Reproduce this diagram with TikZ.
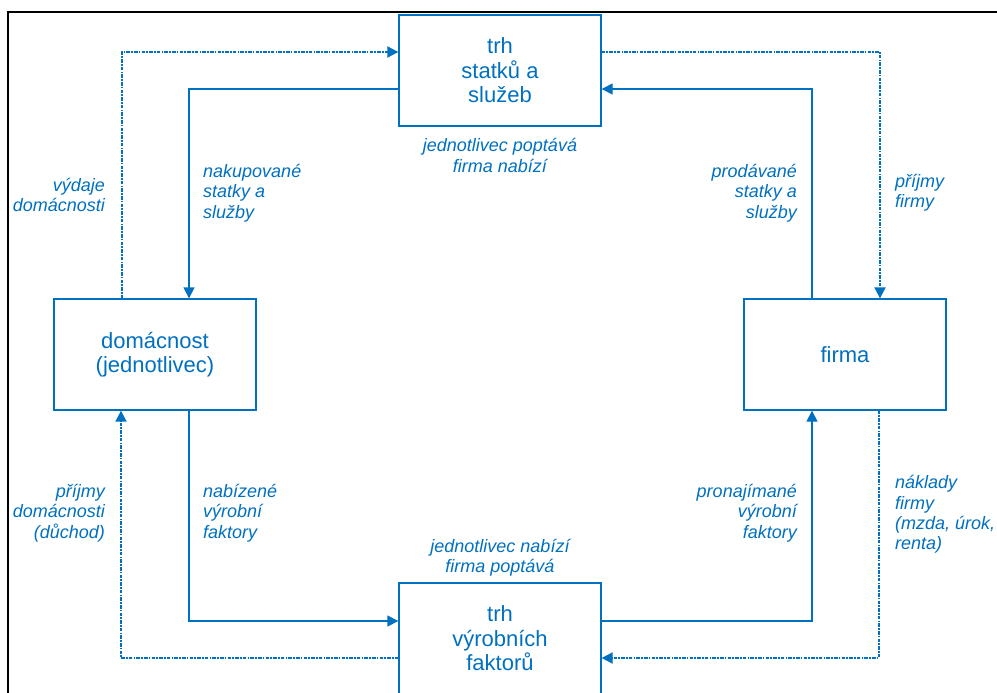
\documentclass[tikz,border=0pt]{standalone}
\usepackage{fontspec}
\setmainfont{Liberation Sans}
\usetikzlibrary{arrows.meta}
\definecolor{cblue}{HTML}{0070C0}
\tikzset{
  boxnode/.style={draw=cblue, line width=1.3pt, minimum width=202pt, minimum height=111pt,
    inner sep=0pt, align=center, text=cblue, font=\fontsize{22}{24.5}\selectfont},
  lbl/.style={inner sep=0pt, text=cblue, font=\fontsize{18}{20.3}\selectfont\itshape},
  flow/.style={draw=cblue, line width=1.3pt, -{Triangle[length=11pt,width=11pt]}},
  money/.style={draw=cblue, line width=1.9pt, dash pattern=on 3.5pt off 1.3pt on 1.5pt off 1.3pt,
    -{Triangle[length=11pt,width=11pt]}}
}
\begin{document}
\begin{tikzpicture}[x=1pt,y=-1pt]
\useasboundingbox (0,0) rectangle (997,693);
% frame
\draw[line width=2pt, black] (8,700) -- (8,12) -- (1005,12);

% boxes
\node[boxnode] (top) at (500,70.5) {trh\\statků a\\služeb};
\node[boxnode] (bot) at (500,638.5) {trh\\výrobních\\faktorů};
\node[boxnode] (dom) at (155,354.5) {domácnost\\(jednotlivec)};
\node[boxnode] (fir) at (845,354.5) {firma};

% helper coordinates
\coordinate (c1) at (189,89);
\coordinate (c2) at (122,52);
\coordinate (c3) at (880,52);
\coordinate (c4) at (812,89);
\coordinate (c5) at (189,621);
\coordinate (c6) at (121,658);
\coordinate (c7) at (812,621);
\coordinate (c8) at (879,658);

% connectors
\draw[flow] (top.west |- c1) -| (dom.north -| c1);
\draw[money] (dom.north -| c2) |- (top.west |- c2);
\draw[money] (top.east |- c3) -| (fir.north -| c3);
\draw[flow] (fir.north -| c4) |- (top.east |- c4);
\draw[flow] (dom.south -| c5) |- (bot.west |- c5);
\draw[money] (bot.west |- c6) -| (dom.south -| c6);
\draw[flow] (bot.east |- c7) -| (fir.south -| c7);
\draw[money] (fir.south -| c8) |- (bot.east |- c8);

% labels
\node[lbl, align=center] (l1) at (500,155.5) {jednotlivec poptává\\firma nabízí};
\node[lbl, align=center] (l2) at (500,557.5) {jednotlivec nabízí\\firma poptává};
\node[lbl, align=left, anchor=west] (l3) at (203,193) {nakupované\\statky a\\služby};
\node[lbl, align=right, anchor=east] (l4) at (105,195) {výdaje\\domácnosti};
\node[lbl, align=right, anchor=east] (l5) at (797,193) {prodávané\\statky a\\služby};
\node[lbl, align=left, anchor=west] (l6) at (895,193) {příjmy\\firmy};
\node[lbl, align=right, anchor=east] (l7) at (105,513) {příjmy\\domácnosti\\(důchod)};
\node[lbl, align=left, anchor=west] (l8) at (203,513) {nabízené\\výrobní\\faktory};
\node[lbl, align=right, anchor=east] (l9) at (797,513) {pronajímané\\výrobní\\faktory};
\node[lbl, align=left, anchor=west] (l10) at (895,514.5) {náklady\\firmy\\(mzda, úrok,\\renta)};
\end{tikzpicture}
\end{document}
